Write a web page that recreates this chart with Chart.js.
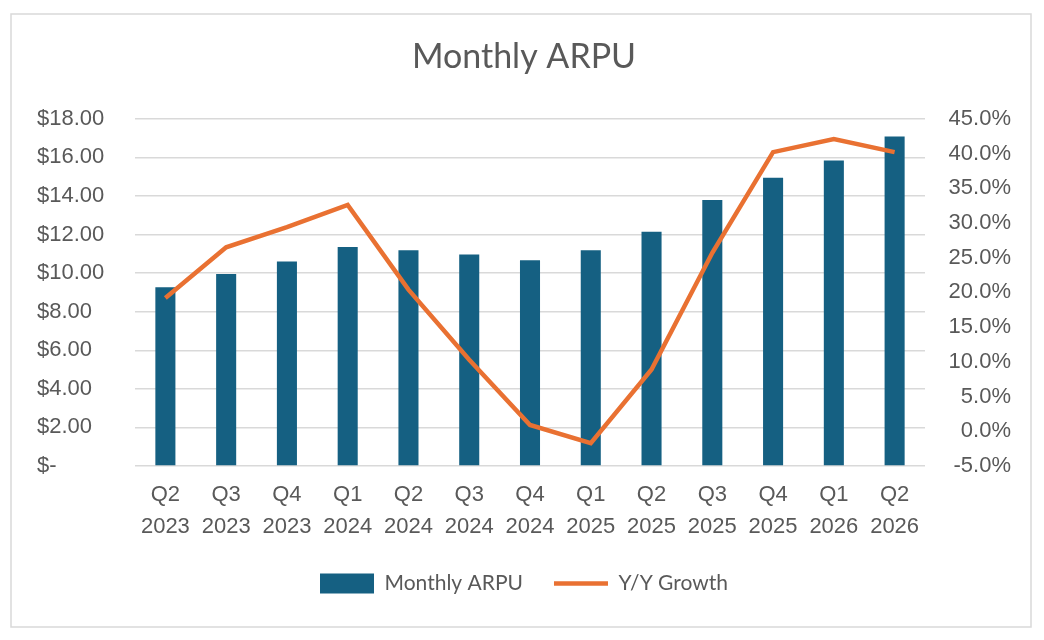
<!DOCTYPE html>
<html>
<head>
<meta charset="utf-8">
<script src="https://cdn.jsdelivr.net/npm/chart.js@4/dist/chart.umd.min.js"></script>
<style>
  html, body { margin: 0; padding: 0; background: #fff; }
  #wrap { width: 1044px; height: 640px; position: relative; }
</style>
</head>
<body>
<div id="wrap"><canvas id="myChart" width="1044" height="640"></canvas></div>
<script>
// data
const quarters = [
  ["Q2", "2023"], ["Q3", "2023"], ["Q4", "2023"], ["Q1", "2024"],
  ["Q2", "2024"], ["Q3", "2024"], ["Q4", "2024"], ["Q1", "2025"],
  ["Q2", "2025"], ["Q3", "2025"], ["Q4", "2025"], ["Q1", "2026"], ["Q2", "2026"]
];
const arpu = [9.27, 9.96, 10.6, 11.35, 11.19, 10.97, 10.67, 11.19, 12.15, 13.79, 14.95, 15.84, 17.08];
const yoyGrowth = [19.2, 26.5, 29.4, 32.6, 20.4, 10.3, 0.9, -1.7, 8.9, 25.7, 40.2, 42.1, 40.2];

const textColor = "#595959";
const gridColor = "#d9d9d9";

// light frame round the chart
const framePlugin = {
  id: "frame",
  beforeDraw(chart) {
    const ctx = chart.ctx;
    ctx.save();
    ctx.fillStyle = "#fff";
    ctx.fillRect(0, 0, chart.width, chart.height);
    ctx.strokeStyle = "#d9d9d9";
    ctx.lineWidth = 1.5;
    ctx.strokeRect(11, 14, 1020, 613);
    ctx.restore();
  },
};

loadchart();
function loadchart() {
  const data = {
    labels: quarters,
    datasets: [
      {
        type: "line",
        label: "Y/Y Growth",
        data: yoyGrowth,
        borderColor: "#E97132",
        backgroundColor: "#E97132",
        borderWidth: 4.5,
        pointRadius: 0,
        pointHoverRadius: 0,
        tension: 0,
        yAxisID: "y1",
        pointStyle: "line",
        order: 0,
      },
      {
        type: "bar",
        label: "Monthly ARPU",
        data: arpu,
        backgroundColor: "#156082",
        borderWidth: 0,
        barPercentage: 0.33,
        categoryPercentage: 1,
        yAxisID: "y",
        pointStyle: "rect",
        order: 1,
      },
    ],
  };

  const config = {
    data: data,
    options: {
      responsive: false,
      animation: false,
      devicePixelRatio: 1,
      layout: { padding: { left: 37, right: 33, top: 0, bottom: 36 } },
      plugins: {
        title: {
          display: true,
          text: "Monthly ARPU",
          color: textColor,
          font: { family: "Lato", size: 34, weight: "normal" },
          padding: { top: 37, bottom: 41 },
        },
        legend: {
          position: "bottom",
          reverse: true,
          labels: {
            color: textColor,
            font: { family: "Lato", size: 21 },
            usePointStyle: true,
            pointStyleWidth: 54,
            boxHeight: 20,
            padding: 31,
          },
        },
        tooltip: { enabled: false },
      },
      scales: {
        x: {
          grid: { display: false, drawTicks: false },
          border: { display: false },
          ticks: {
            color: textColor,
            font: { family: "Liberation Sans", size: 22, lineHeight: 1.45 },
            padding: 13,
            maxRotation: 0,
            autoSkip: false,
          },
          afterFit(scale) { scale.height = 76; },
        },
        y: {
          position: "left",
          min: 0,
          max: 18,
          grid: { color: gridColor, lineWidth: 1.5, drawTicks: false },
          border: { display: false },
          ticks: {
            stepSize: 2,
            color: textColor,
            crossAlign: "far",
            font: { family: "Liberation Sans", size: 22 },
            callback: (v) => (v === 0 ? "$-" : "$" + v.toFixed(2)),
          },
          afterFit(scale) { scale.width = 98; },
        },
        y1: {
          position: "right",
          min: -5,
          max: 45,
          grid: { display: false, drawTicks: false },
          border: { display: false },
          ticks: {
            stepSize: 5,
            color: textColor,
            crossAlign: "far",
            font: { family: "Liberation Sans", size: 22 },
            callback: (v) => v.toFixed(1) + "%",
          },
          afterFit(scale) { scale.width = 86; },
        },
      },
    },
    plugins: [framePlugin],
  };
  const myChart = new Chart(document.getElementById("myChart"), config);
}
</script>
</body>
</html>
